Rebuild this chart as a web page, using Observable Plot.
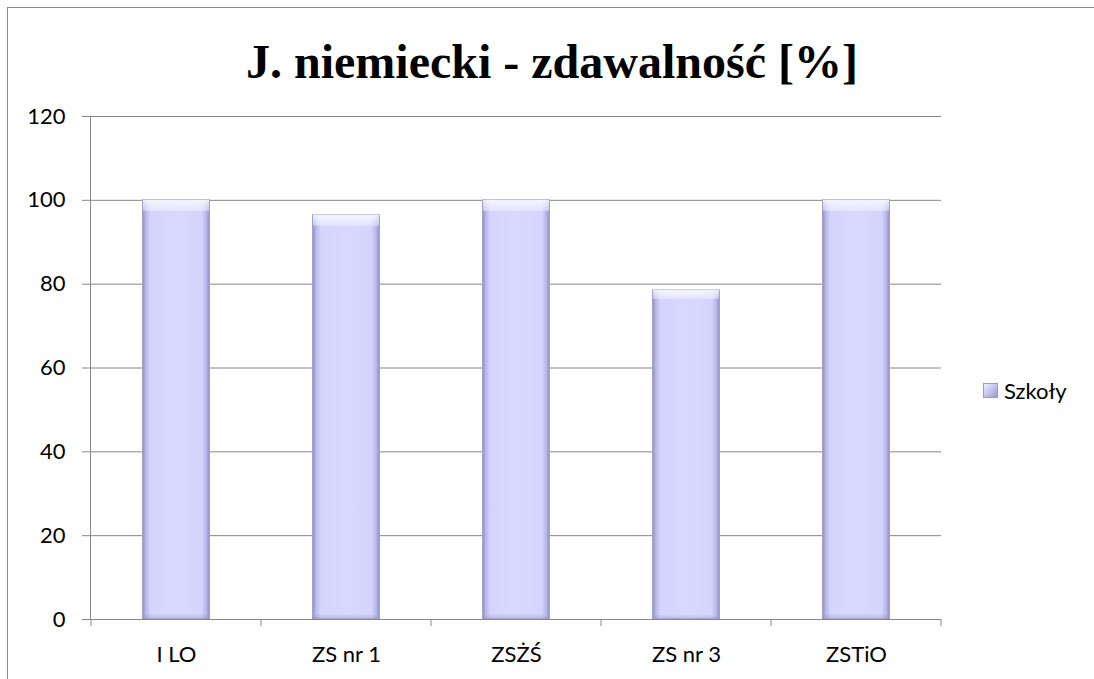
<!DOCTYPE html>
<html><head><meta charset="utf-8">
<script src="https://cdn.jsdelivr.net/npm/d3@7"></script>
<script src="https://cdn.jsdelivr.net/npm/@observablehq/plot@0.6"></script>
<style>
body{margin:0;background:#fff;overflow:hidden}
#wrap{position:relative;width:1094px;height:679px;overflow:hidden;background:#fff}
#frame{position:absolute;left:7px;top:7px;width:1200px;height:800px;border:1.5px solid #8c8c8c}
#title{position:absolute;left:0;width:1104px;top:33px;text-align:center;font:bold 48px "Liberation Serif",serif;color:#000;line-height:1.2}
#chart{position:absolute;left:0;top:0}
#legend{position:absolute;left:983px;top:377px;font:22px Lato,sans-serif;display:flex;align-items:center;color:#000}
#legend .sw{width:13px;height:13px;margin-right:6px;background:linear-gradient(135deg,#eeeeff 0%,#c8c8f4 45%,#9a9acc 100%);border:1px solid #9a9ac4}
</style></head>
<body>
<div id="wrap">
  <div id="frame"></div>
  <div id="chart"></div>
  <div id="title">J. niemiecki - zdawalność [%]</div>
  <div id="legend"><div class="sw"></div><span id="legendLabel"></span></div>
</div>
<script>
const schools = ["I LO", "ZS nr 1", "ZSŻŚ", "ZS nr 3", "ZSTiO"];
const values = [100, 96.4, 100, 78.5, 100];
const yTicks = [0, 20, 40, 60, 80, 100, 120];
const seriesName = "Szkoły";

const data = schools.map((s, i) => ({school: s, value: values[i]}));
document.getElementById("legendLabel").textContent = seriesName;

const plot = Plot.plot({
  width: 1094, height: 679,
  marginLeft: 90, marginRight: 153, marginTop: 116, marginBottom: 60,
  style: {fontFamily: "Lato, sans-serif", fontSize: "22px", background: "transparent", color: "#000"},
  x: {domain: schools, padding: 0, label: null},
  y: {domain: [0, 120], ticks: yTicks, label: null},
  marks: [
    Plot.gridY(yTicks.slice(1), {stroke: "#888", strokeOpacity: 1, strokeWidth: 1}),
    Plot.barY(data, {x: "school", y: "value", insetLeft: 51.5, insetRight: 51.5, fill: "url(#barGrad)", stroke: "#a2a2cc", strokeWidth: 1}),
    Plot.barY(data, {x: "school", y: "value", insetLeft: 52, insetRight: 52, fill: "url(#topGrad)"}),
    Plot.ruleY([0], {stroke: "#888", strokeWidth: 1}),
    Plot.frame({anchor: "left", stroke: "#888", strokeWidth: 1}),
    Plot.axisY(yTicks, {tickSize: 8, tickPadding: 17, stroke: "#888", fill: "#000", label: null}),
    Plot.axisX({tickSize: 0, tickPadding: 27, fill: "#000", label: null})
  ]
});
document.getElementById("chart").appendChild(plot);

const svg = d3.select(plot);
const defs = svg.insert("defs", ":first-child");
const g1 = defs.append("linearGradient").attr("id", "barGrad").attr("x1", 0).attr("x2", 1).attr("y1", 0).attr("y2", 0);
[[0, "#8e8ec0"], [0.05, "#b8b8ea"], [0.12, "#d4d4fd"], [0.5, "#d8d8ff"], [0.88, "#d4d4fd"], [0.95, "#b8b8ea"], [1, "#8e8ec0"]]
  .forEach(([o, c]) => g1.append("stop").attr("offset", o).attr("stop-color", c));
const g2 = defs.append("linearGradient").attr("id", "topGrad").attr("x1", 0).attr("x2", 0).attr("y1", 0).attr("y2", 1);
[[0, "#ffffff", 0.8], [0.025, "#f2f2ff", 0.5], [0.028, "#ffffff", 0], [0.985, "#ffffff", 0], [0.99, "#a0a0d0", 0.2], [1, "#8080b0", 0.35]]
  .forEach(([o, c, a]) => g2.append("stop").attr("offset", o).attr("stop-color", c).attr("stop-opacity", a));

// boundary ticks on the x axis, placed with the plot's own x and y scales
const xs = plot.scale("x"), ys = plot.scale("y");
const y0 = ys.apply(0);
const bounds = schools.map(s => xs.apply(s)).concat([xs.apply(schools[schools.length - 1]) + xs.bandwidth]);
svg.append("g").selectAll("line").data(bounds).join("line")
  .attr("x1", d => d).attr("x2", d => d).attr("y1", y0).attr("y2", y0 + 7)
  .attr("stroke", "#888").attr("stroke-width", 1);
</script>
</body></html>
